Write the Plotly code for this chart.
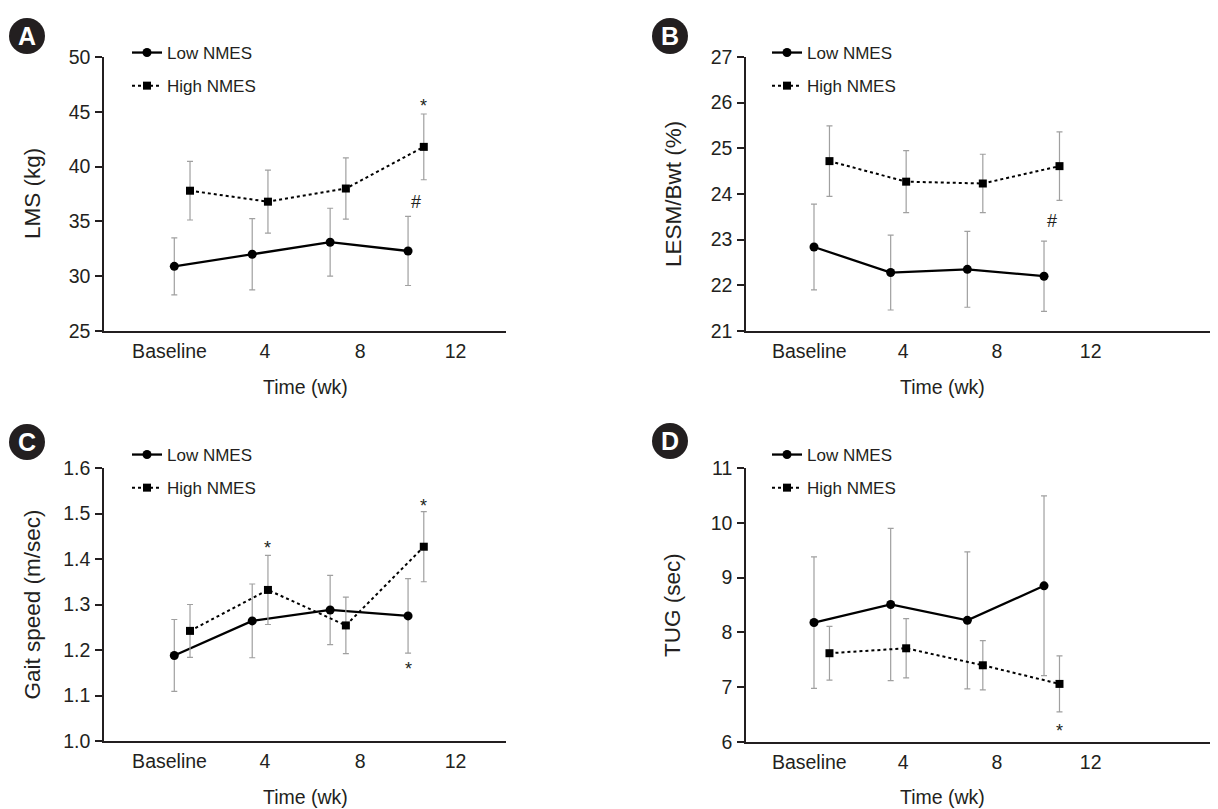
import plotly.graph_objects as go

# ---------------- data ----------------
time_labels = ["Baseline", "4", "8", "12"]
time_tickvals = [0, 4, 8, 12]

# panel A: LMS (kg)
a_low = [30.9, 32.0, 33.1, 32.3]
a_low_sd = [2.6, 3.25, 3.1, 3.15]
a_high = [37.8, 36.8, 38.0, 41.8]
a_high_sd = [2.67, 2.87, 2.8, 3.0]

# panel B: LESM/Bwt (%)
b_low = [22.84, 22.28, 22.35, 22.2]
b_low_sd = [0.94, 0.82, 0.83, 0.77]
b_high = [24.72, 24.27, 24.23, 24.61]
b_high_sd = [0.77, 0.68, 0.64, 0.75]

# panel C: Gait speed (m/sec)
c_low = [1.188, 1.264, 1.288, 1.275]
c_low_sd = [0.079, 0.081, 0.076, 0.082]
c_high = [1.242, 1.332, 1.254, 1.427]
c_high_sd = [0.058, 0.076, 0.062, 0.077]

# panel D: TUG (sec)
d_low = [8.18, 8.51, 8.22, 8.85]
d_low_sd = [1.2, 1.39, 1.25, 1.64]
d_high = [7.62, 7.71, 7.40, 7.06]
d_high_sd = [0.49, 0.54, 0.45, 0.51]

# significance marks: (panel, series, time index, value, symbol)
marks = [
    (0, "high", 3, 45.95, "*"),
    (0, "mid", 3, 36.8, "#"),
    (1, "mid", 3, 23.4, "#"),
    (2, "high", 1, 1.435, "*"),
    (2, "high", 3, 1.527, "*"),
    (2, "low", 3, 1.169, "*"),
    (3, "high", 3, 6.30, "*"),
]

# ---------------- layout constants ----------------
# The page body has an 8px default margin, so the figure is made 8px
# smaller and all page-pixel positions are shifted by that offset.
PAGE_W, PAGE_H = 1218, 809
OFF = 8
FW, FH = PAGE_W - OFF, PAGE_H - OFF
FONT = "Arial, Liberation Sans, Helvetica, sans-serif"
TXT = "#231f20"
ERR = "#a0a0a0"


def px_x(px):
    return (px - OFF) / FW


def px_y(py):
    return 1 - (py - OFF) / FH


# Excel-like placement of the points relative to the category labels
x_step = 3.27
x_offset = {"low": 0.2, "high": 0.86, "mid": 0.53}


def xpos(series, i):
    return x_offset[series] + x_step * i


panels = [
    dict(low=a_low, low_sd=a_low_sd, high=a_high, high_sd=a_high_sd,
         ytitle="LMS (kg)", yrange=[25, 50], dtick=5, fmt="d",
         xdom=[104, 506], ydom=[57, 331], xrange=[-2.75, 14.12],
         letter="A", cx=27, cy=36, leg_x=127, leg_y=35, ytx=32, xtx=305, xty=387),
    dict(low=b_low, low_sd=b_low_sd, high=b_high, high_sd=b_high_sd,
         ytitle="LESM/Bwt (%)", yrange=[21, 27], dtick=1, fmt="d",
         xdom=[746, 1218], ydom=[57, 331], xrange=[-2.70, 17.43],
         letter="B", cx=670, cy=36, leg_x=767, leg_y=35, ytx=673, xtx=942, xty=387),
    dict(low=c_low, low_sd=c_low_sd, high=c_high, high_sd=c_high_sd,
         ytitle="Gait speed (m/sec)", yrange=[1.0, 1.6], dtick=0.1, fmt=".1f",
         xdom=[104, 506], ydom=[468, 741], xrange=[-2.75, 14.12],
         letter="C", cx=27, cy=442, leg_x=127, leg_y=437, ytx=32, xtx=305, xty=797),
    dict(low=d_low, low_sd=d_low_sd, high=d_high, high_sd=d_high_sd,
         ytitle="TUG (sec)", yrange=[6, 11], dtick=1, fmt="d",
         xdom=[746, 1218], ydom=[468, 742], xrange=[-2.70, 17.43],
         letter="D", cx=670, cy=441, leg_x=767, leg_y=437, ytx=672, xtx=942, xty=797),
]

fig = go.Figure()
layout = dict(width=FW, height=FH,
              margin=dict(l=0, r=0, t=0, b=0, pad=0, autoexpand=False),
              paper_bgcolor="white", plot_bgcolor="white",
              font=dict(family=FONT, color=TXT, size=19.5),
              showlegend=True)
annotations = []
shapes = []

for k, p in enumerate(panels):
    n = "" if k == 0 else str(k + 1)
    xa, ya = "x" + n, "y" + n
    leg = "legend" + n
    xs_low = [xpos("low", i) for i in range(len(p["low"]))]
    xs_high = [xpos("high", i) for i in range(len(p["high"]))]

    fig.add_trace(go.Scatter(
        x=xs_low, y=p["low"], xaxis=xa, yaxis=ya, name="Low NMES",
        mode="lines+markers", legend=leg, legendgroup="low" + n,
        line=dict(color="black", width=2.3),
        marker=dict(symbol="circle", size=9, color="black"),
        error_y=dict(type="data", array=p["low_sd"], visible=True,
                     color=ERR, thickness=1.2, width=3),
    ))
    fig.add_trace(go.Scatter(
        x=xs_high, y=p["high"], xaxis=xa, yaxis=ya, name="High NMES",
        mode="lines+markers", legend=leg, legendgroup="high" + n,
        line=dict(color="black", width=2, dash="dot"),
        marker=dict(symbol="square", size=8, color="black"),
        error_y=dict(type="data", array=p["high_sd"], visible=True,
                     color=ERR, thickness=1.2, width=3),
    ))

    layout["xaxis" + n] = dict(
        domain=[px_x(p["xdom"][0]), min(1.0, px_x(p["xdom"][1]))], anchor=ya,
        range=p["xrange"], tickvals=time_tickvals, ticktext=time_labels,
        showline=True, linecolor=TXT, linewidth=1.5, ticks="",
        ticklabelstandoff=2, automargin=False,
        showgrid=False, zeroline=False, tickfont=dict(size=19.5, color=TXT),
        fixedrange=True,
    )
    layout["yaxis" + n] = dict(
        domain=[px_y(p["ydom"][1]), px_y(p["ydom"][0])], anchor=xa,
        range=p["yrange"], dtick=p["dtick"], tick0=p["yrange"][0],
        tickformat=p["fmt"], showline=True, linecolor=TXT, linewidth=1.5,
        ticks="outside", ticklen=7, tickcolor=TXT, tickwidth=1.5,
        ticklabelstandoff=1, automargin=False,
        showgrid=False, zeroline=False, tickfont=dict(size=19.5, color=TXT),
        fixedrange=True,
    )
    layout[leg] = dict(
        x=px_x(p["leg_x"]), y=px_y(p["leg_y"]), xanchor="left", yanchor="top",
        bgcolor="rgba(0,0,0,0)", font=dict(size=17, color=TXT),
        traceorder="grouped", tracegroupgap=8, itemclick=False,
    )

    # axis titles
    annotations.append(dict(
        text="Time (wk)", xref="paper", yref="paper",
        x=px_x(p["xtx"]), y=px_y(p["xty"]), showarrow=False,
        xanchor="center", yanchor="middle", font=dict(size=19.5, color=TXT)))
    annotations.append(dict(
        text=p["ytitle"], xref="paper", yref="paper", textangle=-90,
        x=px_x(p["ytx"]), y=px_y((p["ydom"][0] + p["ydom"][1]) / 2),
        showarrow=False, xanchor="center", yanchor="middle",
        font=dict(size=22.5, color=TXT)))

    # panel letter badge
    r = 18
    shapes.append(dict(type="circle", xref="paper", yref="paper",
                       x0=px_x(p["cx"] - r), x1=px_x(p["cx"] + r),
                       y0=px_y(p["cy"] + r), y1=px_y(p["cy"] - r),
                       fillcolor="#231f20", line=dict(width=0)))
    annotations.append(dict(
        text="<b>%s</b>" % p["letter"], xref="paper", yref="paper",
        x=px_x(p["cx"]), y=px_y(p["cy"]), showarrow=False,
        xanchor="center", yanchor="middle",
        font=dict(size=25, color="white", family=FONT)))

for (k, series, i, val, sym) in marks:
    n = "" if k == 0 else str(k + 1)
    annotations.append(dict(
        text=sym, xref="x" + n, yref="y" + n, x=xpos(series, i), y=val,
        showarrow=False, xanchor="center", yanchor="middle",
        yshift=-5 if sym == "*" else 0,
        font=dict(size=18, color=TXT)))

layout["annotations"] = annotations
layout["shapes"] = shapes
fig.update_layout(**layout)
fig.write_html("out.html")
